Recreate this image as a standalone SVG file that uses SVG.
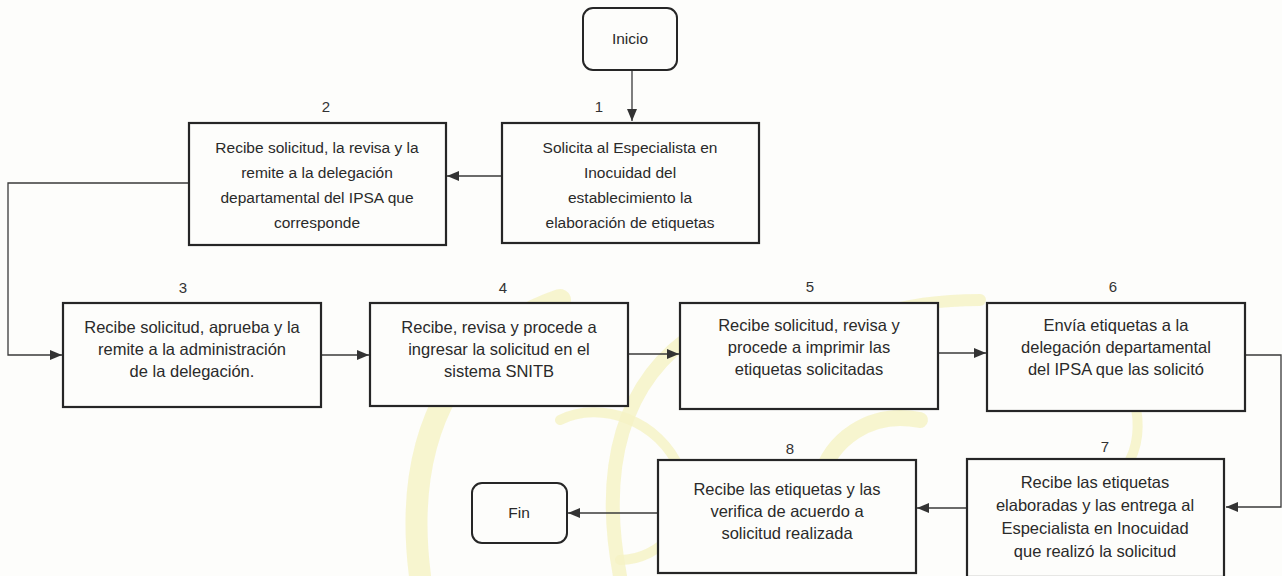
<svg xmlns="http://www.w3.org/2000/svg" width="1282" height="576" viewBox="0 0 1282 576">
<style>
.box{fill:#fdfdfb;stroke:#262626;stroke-width:2.2}
.term{fill:#fdfdfb;stroke:#262626;stroke-width:2;}
.t{font-family:"Liberation Sans","Open Sans",sans-serif;font-size:15.5px;fill:#2a2a2a;text-anchor:middle}
.b{font-size:16.5px}
.n{font-family:"Liberation Sans","Open Sans",sans-serif;font-size:15px;fill:#333;text-anchor:middle}
.c{fill:none;stroke:#3a3a3a;stroke-width:1.3}
.wm{fill:none;stroke:#f5f3c4;stroke-linecap:round;opacity:0.8}
</style>
<defs>
<marker id="ah" viewBox="0 0 12 10" refX="12" refY="5" markerWidth="12" markerHeight="10" markerUnits="userSpaceOnUse" orient="auto">
<path d="M0,0 L12,5 L0,10 Z" fill="#333"/>
</marker>
</defs>
<rect width="1282" height="576" fill="#fdfdfb"/>
<g id="watermark">
<path class="wm" stroke-width="22" d="M560,300 C470,330 400,420 420,576"/>
<path class="wm" stroke-width="14" d="M700,330 C620,380 600,470 620,576"/>
<path class="wm" stroke-width="10" d="M560,420 C600,400 660,420 680,470 C700,520 660,560 620,560"/>
<path class="wm" stroke-width="12" d="M980,300 C900,300 840,320 800,360"/>
<path class="wm" stroke-width="16" d="M920,420 C870,410 830,440 820,480"/>
<path class="wm" stroke-width="10" d="M1080,330 C1130,360 1150,420 1130,460"/>
</g>
<g id="connectors">
<line class="c" x1="632" y1="70" x2="632" y2="121" marker-end="url(#ah)"/>
<line class="c" x1="502" y1="176" x2="447" y2="176" marker-end="url(#ah)"/>
<polyline class="c" points="189,183 8,183 8,355 62,355" marker-end="url(#ah)"/>
<line class="c" x1="321" y1="355" x2="369" y2="355" marker-end="url(#ah)"/>
<line class="c" x1="628" y1="354" x2="679" y2="354" marker-end="url(#ah)"/>
<line class="c" x1="938" y1="353" x2="986" y2="353" marker-end="url(#ah)"/>
<polyline class="c" points="1245,355 1281,355 1281,507 1226,507" marker-end="url(#ah)"/>
<line class="c" x1="967" y1="508" x2="917" y2="508" marker-end="url(#ah)"/>
<line class="c" x1="658" y1="513" x2="568" y2="513" marker-end="url(#ah)"/>
</g>
<g id="inicio">
<rect class="term" x="583" y="8" width="94" height="62" rx="10"/>
<text class="t" x="630" y="44">Inicio</text>
</g>
<g id="step1">
<text class="n" x="599" y="112">1</text>
<rect class="box" x="502" y="123" width="257" height="120"/>
<text class="t" x="630" y="153">Solicita al Especialista en</text>
<text class="t" x="630" y="178">Inocuidad del</text>
<text class="t" x="630" y="203">establecimiento la</text>
<text class="t" x="630" y="228">elaboración de etiquetas</text>
</g>
<g id="step2">
<text class="n" x="326" y="112">2</text>
<rect class="box" x="189" y="123" width="257" height="122"/>
<text class="t" x="317" y="153">Recibe solicitud, la revisa y la</text>
<text class="t" x="317" y="178">remite a la delegación</text>
<text class="t" x="317" y="203">departamental del IPSA que</text>
<text class="t" x="317" y="228">corresponde</text>
</g>
<g id="step3">
<text class="n" x="183" y="293">3</text>
<rect class="box" x="63" y="303" width="258" height="104"/>
<text class="t b" x="192" y="333">Recibe solicitud, aprueba y la</text>
<text class="t b" x="192" y="355">remite a la administración</text>
<text class="t b" x="192" y="377">de la delegación.</text>
</g>
<g id="step4">
<text class="n" x="503" y="293">4</text>
<rect class="box" x="370" y="303" width="258" height="103"/>
<text class="t b" x="499" y="333">Recibe, revisa y procede a</text>
<text class="t b" x="499" y="355">ingresar la solicitud en el</text>
<text class="t b" x="499" y="377">sistema SNITB</text>
</g>
<g id="step5">
<text class="n" x="810" y="292">5</text>
<rect class="box" x="680" y="303" width="258" height="106"/>
<text class="t b" x="809" y="331">Recibe solicitud, revisa y</text>
<text class="t b" x="809" y="353">procede a imprimir las</text>
<text class="t b" x="809" y="375">etiquetas solicitadas</text>
</g>
<g id="step6">
<text class="n" x="1113" y="292">6</text>
<rect class="box" x="987" y="303" width="258" height="108"/>
<text class="t b" x="1116" y="331">Envía etiquetas a la</text>
<text class="t b" x="1116" y="353">delegación departamental</text>
<text class="t b" x="1116" y="375">del IPSA que las solicitó</text>
</g>
<g id="step7">
<text class="n" x="1105" y="452">7</text>
<rect class="box" x="967" y="459" width="257" height="118"/>
<text class="t b" x="1095" y="488">Recibe las etiquetas</text>
<text class="t b" x="1095" y="511">elaboradas y las entrega al</text>
<text class="t b" x="1095" y="534">Especialista en Inocuidad</text>
<text class="t b" x="1095" y="557">que realizó la solicitud</text>
</g>
<g id="step8">
<text class="n" x="790" y="454">8</text>
<rect class="box" x="658" y="460" width="258" height="113"/>
<text class="t b" x="787" y="495">Recibe las etiquetas y las</text>
<text class="t b" x="787" y="517">verifica de acuerdo a</text>
<text class="t b" x="787" y="539">solicitud realizada</text>
</g>
<g id="fin">
<rect class="term" x="472" y="483" width="95" height="60" rx="10"/>
<text class="t" x="519" y="518">Fin</text>
</g>
</svg>
